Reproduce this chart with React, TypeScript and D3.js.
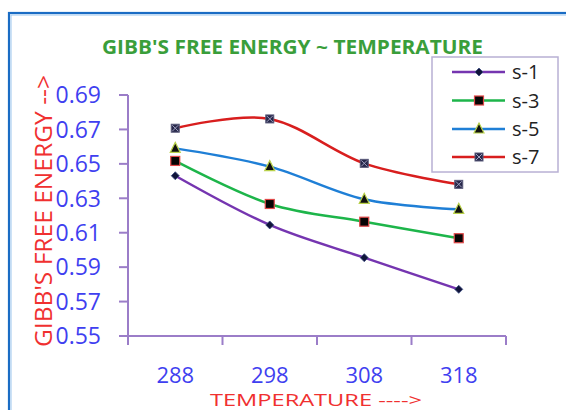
import React from "react";
import * as d3 from "d3";

const categories = ["288", "298", "308", "318"];
const yTicks = [0.55, 0.57, 0.59, 0.61, 0.63, 0.65, 0.67, 0.69];
const s1 = [0.6431, 0.6145, 0.5955, 0.5771];
const s3 = [0.6517, 0.6267, 0.6164, 0.6068];
const s5 = [0.659, 0.6484, 0.6294, 0.6236];
const s7 = [0.6707, 0.6761, 0.6503, 0.6381];
const seriesNames = ["s-1", "s-3", "s-5", "s-7"];
const seriesValues = [s1, s3, s5, s7];
const seriesColors = ["#7535b0", "#1db54a", "#1f7fd6", "#d81e1e"];
const markerTypes = ["diamond", "square", "triangle", "xsquare"];

const W = 566;
const H = 410;
const plotLeft = 128;
const plotRight = 506;
const plotTop = 95;
const plotBottom = 336;
const axisColor = "#9b7dc8";
const FONT = "'Open Sans', 'Liberation Sans', sans-serif";

function Marker({ type, x, y }: { type: string; x: number; y: number }) {
  if (type === "diamond") {
    const r = 4;
    return (
      <path
        d={`M${x},${y - r}L${x + r},${y}L${x},${y + r}L${x - r},${y}Z`}
        fill="#10143a"
        stroke="#3a4a80"
        strokeWidth={0.8}
      />
    );
  }
  if (type === "square") {
    const s = 9;
    return (
      <rect x={x - s / 2} y={y - s / 2} width={s} height={s} fill="#050505" stroke="#e04848" strokeWidth={1.2} />
    );
  }
  if (type === "triangle") {
    const r = 5;
    return (
      <path
        d={`M${x},${y - r - 1}L${x + r},${y + r - 1}L${x - r},${y + r - 1}Z`}
        fill="#101010"
        stroke="#b9d14a"
        strokeWidth={1.2}
      />
    );
  }
  const s = 8;
  return (
    <g>
      <rect x={x - s / 2} y={y - s / 2} width={s} height={s} fill="#27284a" stroke="#5a5a7a" strokeWidth={1} />
      <path
        d={`M${x - s / 2 + 1},${y - s / 2 + 1}L${x + s / 2 - 1},${y + s / 2 - 1}M${x + s / 2 - 1},${y - s / 2 + 1}L${x - s / 2 + 1},${y + s / 2 - 1}`}
        stroke="#a0a0c0"
        strokeWidth={1}
      />
    </g>
  );
}

export default function App() {
  const x = d3.scaleBand<string>().domain(categories).range([plotLeft, plotRight]);
  const y = d3.scaleLinear().domain([0.55, 0.69]).range([plotBottom, plotTop]);
  const cx = (c: string) => (x(c) as number) + x.bandwidth() / 2;
  const line = d3
    .line<number>()
    .x((_, i) => cx(categories[i]))
    .y((d) => y(d))
    .curve(d3.curveCardinal.tension(0));

  const boundaries = categories.map((c) => x(c) as number).concat([plotRight]);
  const legendX = 432;
  const legendY = 57;
  const legendRows = [72, 100.5, 129, 157];

  return (
    <svg
      width={W}
      height={H}
      style={{ position: "absolute", left: 0, top: 0, background: "#fff" }}
      fontFamily={FONT}
    >
      {/* outer border */}
      <rect x={9} y={13} width={W + 20} height={H + 20} fill="none" stroke="#1a6cc4" strokeWidth={2.2} />
      <rect x={11} y={15} width={W + 20} height={H + 20} fill="none" stroke="#9cc6ee" strokeWidth={1} />

      {/* title */}
      <text
        x={102}
        y={54}
        fill="#3a9e3a"
        fontWeight="bold"
        fontSize={19}
        textLength={381}
        lengthAdjust="spacingAndGlyphs"
      >
        GIBB'S FREE ENERGY ~  TEMPERATURE
      </text>

      {/* y axis */}
      <line x1={plotLeft} x2={plotLeft} y1={plotTop} y2={345} stroke={axisColor} strokeWidth={2} />
      {yTicks.map((t) => (
        <g key={t}>
          <line x1={119} x2={plotLeft} y1={y(t)} y2={y(t)} stroke={axisColor} strokeWidth={2} />
          <text x={101} y={y(t)} dy="0.36em" textAnchor="end" fill="#3f3ff0" fontSize={23}>
            {t.toFixed(2)}
          </text>
        </g>
      ))}

      {/* x axis */}
      <line x1={119} x2={plotRight} y1={plotBottom} y2={plotBottom} stroke={axisColor} strokeWidth={2} />
      {boundaries.map((b, i) => (
        <line key={i} x1={b} x2={b} y1={plotBottom} y2={345} stroke={axisColor} strokeWidth={2} />
      ))}
      {categories.map((c) => (
        <text key={c} x={cx(c)} y={383} textAnchor="middle" fill="#3f3ff0" fontSize={22}>
          {c}
        </text>
      ))}

      {/* axis titles */}
      <text
        x={210}
        y={406}
        fill="#f03030"
        fontSize={17}
        textLength={212}
        lengthAdjust="spacingAndGlyphs"
      >
        TEMPERATURE ----&gt;
      </text>
      <text
        transform="translate(52,347) rotate(-90)"
        x={0}
        y={0}
        fill="#f03030"
        fontSize={24}
        textLength={272}
        lengthAdjust="spacingAndGlyphs"
      >
        GIBB'S FREE ENERGY  --&gt;
      </text>

      {/* series */}
      {seriesValues.map((vals, si) => (
        <g key={si}>
          <path d={line(vals) || ""} fill="none" stroke={seriesColors[si]} strokeWidth={2.5} />
          {vals.map((v, i) => (
            <Marker key={i} type={markerTypes[si]} x={cx(categories[i])} y={y(v)} />
          ))}
        </g>
      ))}

      {/* legend */}
      <rect x={legendX} y={legendY} width={126} height={115} fill="#fff" stroke="#b8b0d4" strokeWidth={1.5} />
      {seriesNames.map((n, i) => (
        <g key={n}>
          <line x1={452} x2={505} y1={legendRows[i]} y2={legendRows[i]} stroke={seriesColors[i]} strokeWidth={2.5} />
          <Marker type={markerTypes[i]} x={479} y={legendRows[i]} />
          <text x={512} y={legendRows[i]} dy="0.35em" fontSize={20} fill="#222">
            {n}
          </text>
        </g>
      ))}
    </svg>
  );
}
